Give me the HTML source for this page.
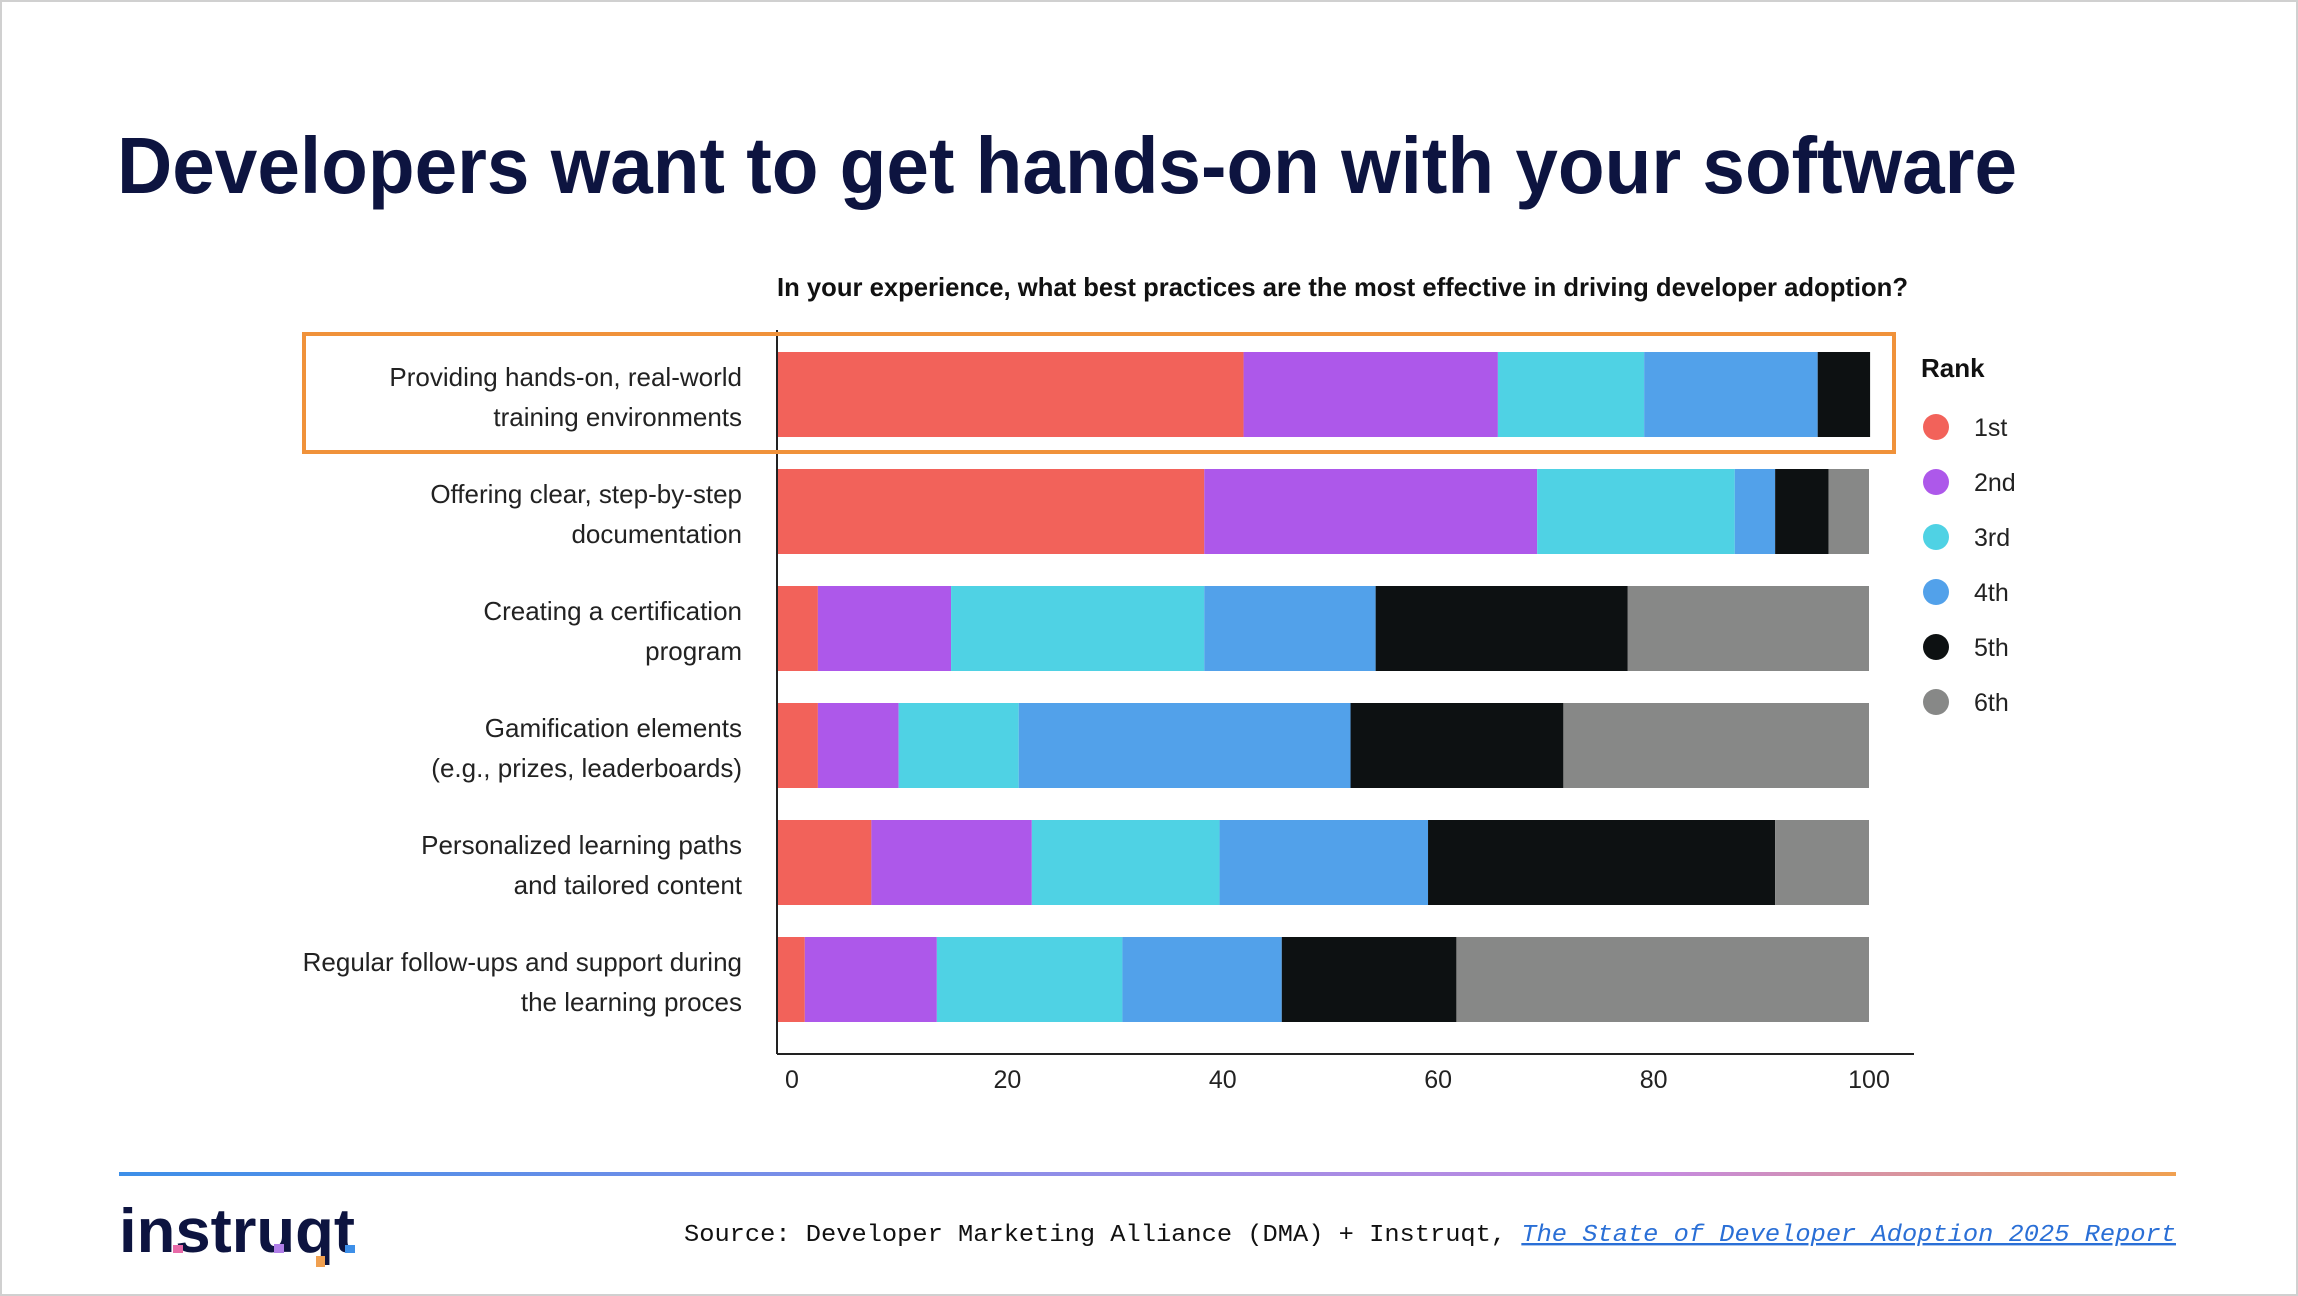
<!DOCTYPE html>
<html><head><meta charset="utf-8"><style>
html,body{margin:0;padding:0;background:#fff;}
svg{display:block;}
</style></head><body>
<svg id="chart" width="2298" height="1296" viewBox="0 0 2298 1296" xmlns="http://www.w3.org/2000/svg" font-family="Liberation Sans, sans-serif">
<defs>
<linearGradient id="rule" x1="0" x2="1" y1="0" y2="0">
<stop offset="0" stop-color="#3d8fe8"/><stop offset="0.45" stop-color="#8f8ee8"/><stop offset="0.75" stop-color="#c58ae0"/><stop offset="1" stop-color="#f0a050"/>
</linearGradient>
</defs>
<rect x="1" y="1" width="2296" height="1294" fill="#fff" stroke="#d0d0d0" stroke-width="2"/>
<text x="117" y="193" font-size="80" font-weight="bold" fill="#0d1440" textLength="1900" lengthAdjust="spacingAndGlyphs">Developers want to get hands-on with your software</text>
<text x="777" y="296" font-size="26" font-weight="bold" fill="#111" textLength="1131" lengthAdjust="spacingAndGlyphs">In your experience, what best practices are the most effective in driving developer adoption?</text>
<g id="bars"></g>
<g id="labels"></g>
<g id="ticks"></g>
<line x1="777" y1="330" x2="777" y2="1054" stroke="#222" stroke-width="2"/>
<line x1="777" y1="1054" x2="1914" y2="1054" stroke="#222" stroke-width="2"/>
<rect x="304" y="334" width="1590" height="118" fill="none" stroke="#f0923a" stroke-width="4"/>
<text x="1921" y="377" font-size="26" font-weight="bold" fill="#111">Rank</text>
<g id="legend"></g>
<rect x="119" y="1172" width="2057" height="4" fill="url(#rule)"/>
<g>
<text x="119" y="1252" font-size="62" font-weight="bold" fill="#0d1440" textLength="236" lengthAdjust="spacingAndGlyphs">instruqt</text>
<rect x="173" y="1245" width="10" height="8" fill="#e86aa8"/>
<rect x="274" y="1244" width="10" height="9" fill="#b07ee8"/>
<rect x="345" y="1245" width="10" height="8" fill="#3d8fe8"/>
<rect x="316" y="1256" width="9" height="11" fill="#f0a050"/>
</g>
<text x="684" y="1241" font-size="24" font-family="Liberation Mono, monospace" fill="#111" textLength="1492" lengthAdjust="spacingAndGlyphs">Source: Developer Marketing Alliance (DMA) + Instruqt, <tspan fill="#2a6fd6" font-style="italic" text-decoration="underline">The State of Developer Adoption 2025 Report</tspan></text>
</svg>
<script>
const categories = [
  ["Providing hands-on, real-world","training environments"],
  ["Offering clear, step-by-step","documentation"],
  ["Creating a certification","program"],
  ["Gamification elements","(e.g., prizes, leaderboards)"],
  ["Personalized learning paths","and tailored content"],
  ["Regular follow-ups and support during","the learning proces"]
];
const rankNames = ["1st","2nd","3rd","4th","5th","6th"];
const rank1 = [42.7, 39.1, 3.7, 3.7, 8.6, 2.5];
const rank2 = [23.3, 30.5, 12.2, 7.4, 14.7, 12.1];
const rank3 = [13.4, 18.1, 23.2, 11.0, 17.2, 17.0];
const rank4 = [15.9, 3.7, 15.7, 30.4, 19.1, 14.6];
const rank5 = [4.8, 4.9, 23.1, 19.5, 31.8, 16.0];
const rank6 = [0.0, 3.7, 22.1, 28.0, 8.6, 37.8];
const tickValues = [0, 20, 40, 60, 80, 100];
const colors = ["#f2625a","#ad58ea","#4fd2e4","#52a1ea","#0d1112","#878887"];

const NS = "http://www.w3.org/2000/svg";
const series = [rank1, rank2, rank3, rank4, rank5, rank6];
function xScale(v){ return 777.5 + v * 10.915; }
function tickX(v){ return 792 + v * 10.77; }
function rowTop(i){ return 352 + i * 117; }
const barH = 85;

const barsG = document.getElementById('bars');
const labelsG = document.getElementById('labels');
categories.forEach((cat, i) => {
  let cum = 0;
  series.forEach((s, k) => {
    const v = s[i];
    if (v > 0) {
      const r = document.createElementNS(NS, 'rect');
      r.setAttribute('x', xScale(cum));
      r.setAttribute('y', rowTop(i));
      r.setAttribute('width', xScale(cum + v) - xScale(cum));
      r.setAttribute('height', barH);
      r.setAttribute('fill', colors[k]);
      
      
      barsG.appendChild(r);
    }
    cum += v;
  });
  cat.forEach((line, j) => {
    const t = document.createElementNS(NS, 'text');
    t.setAttribute('x', 742);
    t.setAttribute('y', rowTop(i) + 34 + j * 40);
    t.setAttribute('text-anchor', 'end');
    t.setAttribute('font-size', '26');
    t.setAttribute('fill', '#222');
    t.textContent = line;
    
    
    labelsG.appendChild(t);
  });
});

const ticksG = document.getElementById('ticks');
tickValues.forEach(v => {
  const t = document.createElementNS(NS, 'text');
  t.setAttribute('x', tickX(v));
  t.setAttribute('y', 1088);
  t.setAttribute('text-anchor', 'middle');
  t.setAttribute('font-size', '25');
  t.setAttribute('fill', '#222');
  t.textContent = v;
  
  
  ticksG.appendChild(t);
});

const legendG = document.getElementById('legend');
rankNames.forEach((n, k) => {
  const y = 427 + k * 55;
  const c = document.createElementNS(NS, 'circle');
  c.setAttribute('cx', 1936);
  c.setAttribute('cy', y);
  c.setAttribute('r', 13);
  c.setAttribute('fill', colors[k]);
  
  
  legendG.appendChild(c);
  const t = document.createElementNS(NS, 'text');
  t.setAttribute('x', 1974);
  t.setAttribute('y', y + 9);
  t.setAttribute('font-size', '25');
  t.setAttribute('fill', '#222');
  t.textContent = n;
  
  
  legendG.appendChild(t);
});
</script>
</body></html>
